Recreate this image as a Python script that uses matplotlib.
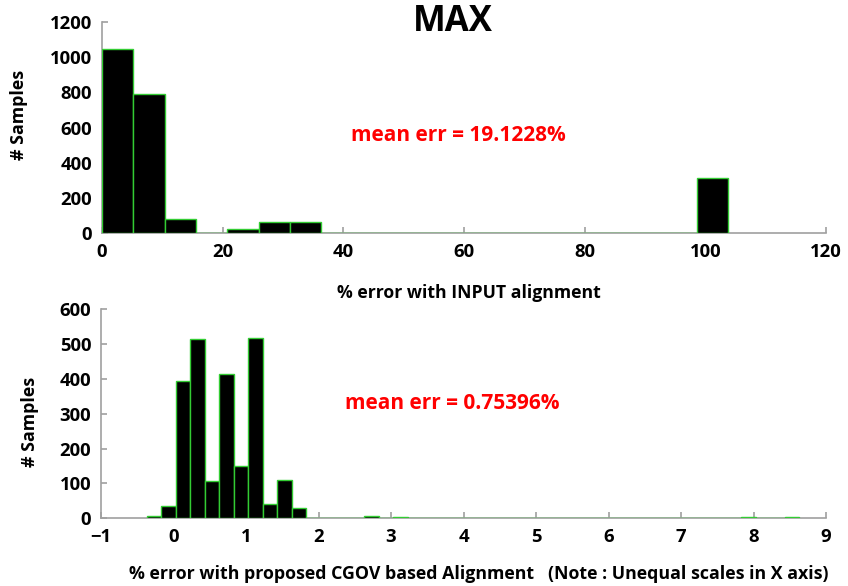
import numpy as np
import matplotlib
matplotlib.use('Agg')
import matplotlib.pyplot as plt

# top histogram: % error with INPUT alignment
top_left_edges = [0.0, 5.19, 10.38, 15.57, 20.76, 25.95, 31.14, 36.33, 41.52, 46.71,
                  51.9, 57.09, 62.28, 67.47, 72.66, 77.85, 83.04, 88.23, 93.42, 98.61]
top_counts = [1044, 790, 78, 0, 23, 61, 61, 0, 0, 0,
              0, 0, 0, 0, 0, 0, 0, 0, 0, 310]
top_width = 5.19
top_xticks = [0, 20, 40, 60, 80, 100, 120]
top_yticks = [0, 200, 400, 600, 800, 1000, 1200]

# bottom histogram: % error with proposed CGOV based alignment
bot_left_edges = [-0.37 + 0.2 * k for k in range(45)]
bot_counts = [8, 35, 394, 515, 106, 414, 149, 517, 40, 111,
              31, 0, 0, 0, 0, 7, 0, 5, 0, 0,
              0, 0, 0, 0, 0, 0, 0, 0, 0, 0,
              0, 0, 0, 0, 0, 0, 0, 0, 0, 2,
              0, 3, 0, 1, 5]
bot_width = 0.2
bot_xticks = [-1, 0, 1, 2, 3, 4, 5, 6, 7, 8, 9]
bot_yticks = [0, 100, 200, 300, 400, 500, 600]

plt.rcParams['font.family'] = ['Open Sans', 'DejaVu Sans']
plt.rcParams['font.weight'] = 'bold'

fig = plt.figure(figsize=(8.48, 5.86), dpi=100)
ax1 = fig.add_axes([0.1203, 0.6024, 0.8538, 0.360])
ax2 = fig.add_axes([0.1191, 0.1155, 0.855, 0.3567])

edge_green = '#33cc33'
grey = '#a0a0a0'


def style_axes(ax):
    for side in ['top', 'right']:
        ax.spines[side].set_visible(False)
    for side in ['left', 'bottom']:
        ax.spines[side].set_color(grey)
        ax.spines[side].set_linewidth(1.2)
    ax.tick_params(direction='in', length=4, width=1.2, color=grey,
                   labelsize=13.3, pad=7)
    for lab in ax.get_xticklabels() + ax.get_yticklabels():
        lab.set_fontweight('bold')


ax1.bar(top_left_edges, top_counts, width=top_width, align='edge',
        color='black', edgecolor=edge_green, linewidth=1.0, zorder=3)
ax1.set_xlim(0, 120)
ax1.set_ylim(0, 1200)
ax1.set_xticks(top_xticks)
ax1.set_yticks(top_yticks)
style_axes(ax1)
ax1.set_xlabel('% error with INPUT alignment', fontsize=12.7, fontweight='bold')
ax1.xaxis.set_label_coords(0.507, -0.24)
ax1.set_ylabel('# Samples', fontsize=12.8, fontweight='bold')
ax1.yaxis.set_label_coords(-0.102, 0.559)
ax1.text(41.3, 552, 'mean err = 19.1228%', color='red', fontsize=15,
         fontweight='bold', ha='left', va='center')

ax2.bar(bot_left_edges, bot_counts, width=bot_width, align='edge',
        color='black', edgecolor=edge_green, linewidth=1.0, zorder=3)
ax2.set_xlim(-1, 9)
ax2.set_ylim(0, 600)
ax2.set_xticks(bot_xticks)
ax2.set_yticks(bot_yticks)
style_axes(ax2)
ax2.set_xlabel('% error with proposed CGOV based Alignment   (Note : Unequal scales in X axis)',
               fontsize=12.8, fontweight='bold')
ax2.xaxis.set_label_coords(0.521, -0.222)
ax2.set_ylabel('# Samples', fontsize=12.8, fontweight='bold')
ax2.yaxis.set_label_coords(-0.086, 0.461)
ax2.text(2.37, 331, 'mean err = 0.75396%', color='red', fontsize=15,
         fontweight='bold', ha='left', va='center')

fig.text(0.534, 0.962, 'MAX', fontsize=25, fontweight='bold', ha='center', va='center')

fig.savefig('out.png', dpi=100)
